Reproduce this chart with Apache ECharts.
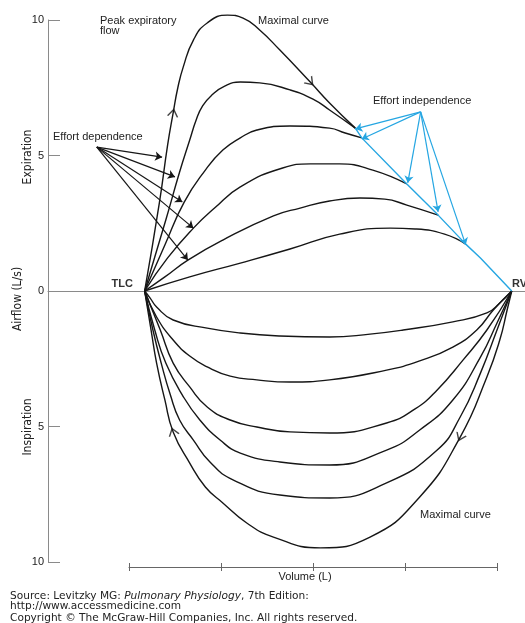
<!DOCTYPE html>
<html><head><meta charset="utf-8">
<script src="https://cdn.jsdelivr.net/npm/echarts@6/dist/echarts.min.js"></script>
<style>html,body{margin:0;padding:0;background:#fff}#c{width:525px;height:623px}</style>
</head><body><div id="c"></div>
<script>
// ---- data: volume (L, axis units) vs airflow (L/s; expiration +, inspiration -) ----
const volumeTicks = [0, 1, 2, 3, 4];
const airflowTicks = [-10, -5, 0, 5, 10];

const expMaximal = [[0.17,0],[0.33,3.25],[0.42,5.39],[0.48,6.57],[0.53,7.49],[0.59,8.27],[0.70,9.26],[0.85,9.89],[1.07,10.18],[1.24,10.07],[1.42,9.63],[1.64,8.89],[1.97,7.71],[2.18,6.94],[2.46,6.01]];
const expIndependence = [[2.46,6.01],[2.53,5.65],[3.02,3.95],[3.36,2.80],[3.66,1.73],[3.82,1.22],[4.16,0]];
const exp1 = [[0.17,0],[0.40,2.62],[0.55,4.39],[0.66,5.57],[0.73,6.31],[0.80,6.83],[0.90,7.23],[1.04,7.56],[1.21,7.71],[1.42,7.68],[1.75,7.42],[2.00,7.08],[2.18,6.68],[2.46,6.01]];
const exp2 = [[0.17,0],[0.39,1.70],[0.60,3.28],[0.83,4.46],[1.02,5.20],[1.21,5.65],[1.39,5.94],[1.75,6.09],[2.18,6.01],[2.35,5.83],[2.53,5.65]];
const exp3 = [[0.17,0],[0.42,1.22],[0.70,2.32],[0.93,3.06],[1.21,3.84],[1.67,4.54],[1.97,4.69],[2.29,4.69],[2.65,4.46],[3.02,3.95]];
const exp4 = [[0.17,0],[0.39,0.52],[0.64,1.14],[1.02,1.88],[1.57,2.77],[1.86,3.06],[2.18,3.32],[2.51,3.43],[2.78,3.39],[3.02,3.17],[3.36,2.80]];
const exp5 = [[0.17,0],[0.66,0.52],[1.21,1.03],[1.75,1.55],[2.29,2.10],[2.84,2.32],[3.11,2.29],[3.43,2.10],[3.66,1.73]];

const insp1 = [[0.17,0],[0.23,-0.26],[0.30,-0.59],[0.48,-1.07],[0.85,-1.37],[1.21,-1.55],[1.64,-1.66],[2.18,-1.70],[2.62,-1.59],[2.98,-1.44],[3.52,-1.14],[3.89,-0.81],[4.03,-0.44],[4.16,0]];
const insp2 = [[0.17,0],[0.30,-0.96],[0.48,-1.81],[0.66,-2.40],[0.85,-2.80],[1.10,-3.14],[1.39,-3.28],[1.75,-3.36],[2.18,-3.28],[2.80,-2.92],[3.16,-2.58],[3.52,-2.07],[3.78,-1.44],[3.96,-0.70],[4.16,0]];
const insp3 = [[0.17,0],[0.34,-1.44],[0.48,-2.66],[0.66,-3.54],[0.85,-4.28],[1.10,-4.76],[1.39,-5.02],[1.75,-5.20],[2.18,-5.24],[2.80,-4.87],[3.11,-4.35],[3.35,-3.65],[3.63,-2.55],[3.89,-1.44],[4.16,0]];
const insp4 = [[0.17,0],[0.28,-1.44],[0.40,-2.66],[0.58,-3.84],[0.77,-4.76],[0.99,-5.50],[1.21,-5.98],[1.64,-6.31],[2.18,-6.42],[2.80,-5.87],[3.16,-5.13],[3.52,-4.02],[3.82,-2.44],[4.00,-1.18],[4.16,0]];
const insp5 = [[0.17,0],[0.26,-1.44],[0.35,-2.66],[0.45,-3.84],[0.55,-4.76],[0.70,-5.50],[0.88,-6.31],[1.13,-6.97],[1.64,-7.53],[2.18,-7.64],[2.80,-7.08],[3.35,-5.87],[3.60,-4.65],[3.82,-3.03],[4.00,-1.44],[4.16,0]];
const inspMaximal = [[0.17,0],[0.24,-1.44],[0.30,-2.66],[0.39,-4.02],[0.48,-5.20],[0.66,-6.35],[0.83,-7.23],[1.02,-7.82],[1.28,-8.56],[1.57,-9.08],[2.08,-9.48],[2.62,-9.08],[3.16,-7.60],[3.60,-5.39],[3.89,-3.17],[4.03,-1.81],[4.11,-0.70],[4.16,0]];

// flow-direction chevrons on the maximal loop: [volume, airflow, rotation deg]
const flowArrows = [[0.48,6.57,-10],[1.97,7.71,-137],[0.48,-5.20,18],[3.60,-5.39,156]];
// annotation arrows: source point and targets
const dependenceFrom = [-0.35,5.31];
const dependenceTo = [[0.36,4.94],[0.50,4.21],[0.58,3.28],[0.70,2.32],[0.64,1.14]];
const independenceFrom = [3.17,6.61];
const independenceTo = [[2.46,5.98],[2.53,5.61],[3.03,3.99],[3.36,2.92],[3.66,1.70]];

const BLACK = '#161616', BLUE = '#25a6e2', GRAY = '#8a8a8a', TXT = '#222';
const FONT = '"Liberation Sans", Arial, sans-serif';
const NARROW = '"Liberation Sans Narrow", "DejaVu Sans Condensed", sans-serif';
const SRC = '10.6px "DejaVu Sans", sans-serif';

const chart = echarts.init(document.getElementById('c'), null, {renderer: 'canvas'});

function curve(data, color) {
  return {type: 'line', xAxisIndex: 0, yAxisIndex: 0, data: data, smooth: 0.5,
    symbol: 'none', clip: false, silent: true, lineStyle: {color: color || BLACK, width: 1.4}, z: 3};
}
function arrows(from, tos, color) {
  return {type: 'lines', coordinateSystem: 'cartesian2d', xAxisIndex: 0, yAxisIndex: 0, silent: true,
    symbol: ['none', 'arrow'], symbolSize: 7, clip: false,
    lineStyle: {color: color, width: 1.2, opacity: 1}, z: 5,
    data: tos.map(t => ({coords: [from, t]}))};
}

chart.setOption({
  animation: false,
  backgroundColor: '#fff',
  grid: [
    {left: 48, top: 20, width: 477, height: 542},
    {left: 129, top: 566, width: 368, height: 1},
    {left: 129, top: 566, width: 368, height: 1}
  ],
  xAxis: [
    {gridIndex: 0, type: 'value', min: -0.8804, max: 4.3043, axisLine: {show: true, onZero: true, lineStyle: {color: GRAY, width: 1}},
      axisTick: {show: false}, axisLabel: {show: false}, splitLine: {show: false}},
    {gridIndex: 1, type: 'value', min: volumeTicks[0], max: volumeTicks[volumeTicks.length-1], interval: 1, position: 'bottom',
      axisLine: {show: true, onZero: false, lineStyle: {color: '#666', width: 1}},
      axisTick: {show: true, inside: true, length: 4, lineStyle: {color: '#666'}}, axisLabel: {show: false}, splitLine: {show: false}},
    {gridIndex: 2, type: 'value', min: volumeTicks[0], max: volumeTicks[volumeTicks.length-1], interval: 1, position: 'bottom',
      axisLine: {show: false, onZero: false},
      axisTick: {show: true, inside: false, length: 4, lineStyle: {color: '#666'}}, axisLabel: {show: false}, splitLine: {show: false}}
  ],
  yAxis: [
    {gridIndex: 0, type: 'value', min: airflowTicks[0], max: airflowTicks[airflowTicks.length-1], interval: 5,
      axisLine: {show: true, onZero: false, lineStyle: {color: GRAY, width: 1}},
      axisTick: {show: true, inside: true, length: 12, lineStyle: {color: GRAY}},
      axisLabel: {show: true, margin: 4, color: TXT, fontSize: 11, fontFamily: FONT, formatter: v => String(Math.abs(v))},
      splitLine: {show: false}},
    {gridIndex: 1, type: 'value', show: false},
    {gridIndex: 2, type: 'value', show: false}
  ],
  series: [
    curve(expMaximal), curve(exp1), curve(exp2), curve(exp3), curve(exp4), curve(exp5),
    {type: 'line', xAxisIndex: 0, yAxisIndex: 0, data: expIndependence, symbol: 'none', clip: false, silent: true,
      lineStyle: {color: BLUE, width: 1.4}, z: 4},
    curve(insp1), curve(insp2), curve(insp3), curve(insp4), curve(insp5), curve(inspMaximal),
    arrows(dependenceFrom, dependenceTo, BLACK),
    arrows(independenceFrom, independenceTo, BLUE),
    {type: 'scatter', xAxisIndex: 0, yAxisIndex: 0, silent: true, clip: false, z: 6,
      symbol: 'path://M0,8 L5,0 L10,8', symbolSize: [10, 7],
      itemStyle: {color: 'rgba(0,0,0,0)', borderColor: BLACK, borderWidth: 1.3},
      data: flowArrows.map(a => ({value: [a[0], a[1]], symbolRotate: a[2]}))}
  ],
  graphic: [
    {type: 'text', x: 100, y: 21, style: {text: 'Peak expiratory', font: '11px ' + FONT, fill: TXT, textVerticalAlign: 'middle'}},
    {type: 'text', x: 100, y: 31, style: {text: 'flow', font: '11px ' + FONT, fill: TXT, textVerticalAlign: 'middle'}},
    {type: 'text', x: 258, y: 21, style: {text: 'Maximal curve', font: '11px ' + FONT, fill: TXT, textVerticalAlign: 'middle'}},
    {type: 'text', x: 53, y: 137, style: {text: 'Effort dependence', font: '11px ' + FONT, fill: TXT, textVerticalAlign: 'middle'}},
    {type: 'text', x: 373, y: 101, style: {text: 'Effort independence', font: '11px ' + FONT, fill: TXT, textVerticalAlign: 'middle'}},
    {type: 'text', x: 133, y: 284, style: {text: 'TLC', font: 'bold 11px ' + FONT, fill: '#333', textAlign: 'right', textVerticalAlign: 'middle'}},
    {type: 'text', x: 512, y: 284, style: {text: 'RV', font: 'bold 11px ' + FONT, fill: '#333', textVerticalAlign: 'middle'}},
    {type: 'text', x: 420, y: 515, style: {text: 'Maximal curve', font: '11px ' + FONT, fill: TXT, textVerticalAlign: 'middle'}},
    {type: 'text', x: 305, y: 577, style: {text: 'Volume (L)', font: '11px ' + FONT, fill: TXT, textAlign: 'center', textVerticalAlign: 'middle'}},
    {type: 'text', x: 28, y: 157, rotation: Math.PI/2, style: {text: 'Expiration', font: '12px ' + NARROW, fill: TXT, textAlign: 'center', textVerticalAlign: 'middle'}},
    {type: 'text', x: 18, y: 299, rotation: Math.PI/2, style: {text: 'Airflow (L/s)', font: '12px ' + NARROW, fill: TXT, textAlign: 'center', textVerticalAlign: 'middle'}},
    {type: 'text', x: 28, y: 427, rotation: Math.PI/2, style: {text: 'Inspiration', font: '12px ' + NARROW, fill: TXT, textAlign: 'center', textVerticalAlign: 'middle'}},
    {type: 'text', x: 10, y: 596, style: {text: '{a|Source: Levitzky MG: }{b|Pulmonary Physiology}{a|, 7th Edition:}',
      textVerticalAlign: 'middle', rich: {a: {font: SRC, fill: '#222'}, b: {font: 'italic ' + SRC, fill: '#222'}}}},
    {type: 'text', x: 10, y: 606, style: {text: 'http://www.accessmedicine.com', font: SRC, fill: '#222', textVerticalAlign: 'middle'}},
    {type: 'text', x: 10, y: 618, style: {text: 'Copyright \u00a9 The McGraw-Hill Companies, Inc. All rights reserved.', font: SRC, fill: '#222', textVerticalAlign: 'middle'}}
  ]
});
</script>
</body></html>
